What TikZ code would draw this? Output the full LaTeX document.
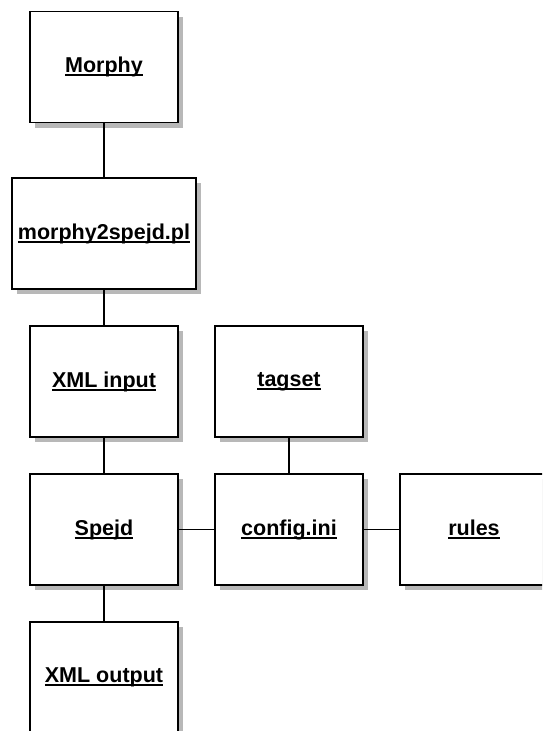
\documentclass[tikz,border=0pt]{standalone}
\usepackage{fontspec}
\setmainfont{Liberation Sans}
\usepackage{tikz}
\usetikzlibrary{shapes,shadows}

\newsavebox{\lnkbox}
\newcommand{\lnk}[1]{\sbox{\lnkbox}{#1}\rlap{\rule[-3.6pt]{\wd\lnkbox}{1.8pt}}\usebox{\lnkbox}}

\tikzset{
	block/.style={draw, line width=1.6pt, fill=white, rectangle, inner sep=0pt,
		minimum width=148pt, minimum height=111pt,
		font=\fontsize{21.5}{26}\selectfont\bfseries,
		drop shadow={shadow xshift=5pt, shadow yshift=-5pt, fill=black!28, opacity=1}},
	link/.style={line width=1.4pt}
}

\begin{document}
\begin{tikzpicture}[x=1pt,y=-1pt]
	% canvas
	\useasboundingbox (0,0) rectangle (542,731);
	\clip (0,0) rectangle (542,731);
	
	% left column
	\node[block] (morphy) at (104,67) {\lnk{Morphy}};
	\node[block, minimum width=184pt] (m2s) at (104,233.5) {\lnk{morphy2spejd.pl}};
	\node[block] (xmlin) at (104,381.5) {\lnk{XML input}};
	\node[block] (spejd) at (104,529.5) {\lnk{Spejd}};
	\node[block] (xmlout) at (104,677.5) {\lnk{XML output}};
	
	% configuration
	\node[block] (tagset) at (289,381.5) {\lnk{tagset}};
	\node[block] (config) at (289,529.5) {\lnk{config.ini}};
	\node[block] (rules) at (474,529.5) {\lnk{rules}};
	
	% links
	\draw[link] (morphy) -- (m2s);
	\draw[link] (m2s) -- (xmlin);
	\draw[link] (xmlin) -- (spejd);
	\draw[link] (spejd) -- (xmlout);
	\draw[link] (spejd) -- (config);
	\draw[link] (tagset) -- (config);
	\draw[link] (config) -- (rules);
\end{tikzpicture}
\end{document}
